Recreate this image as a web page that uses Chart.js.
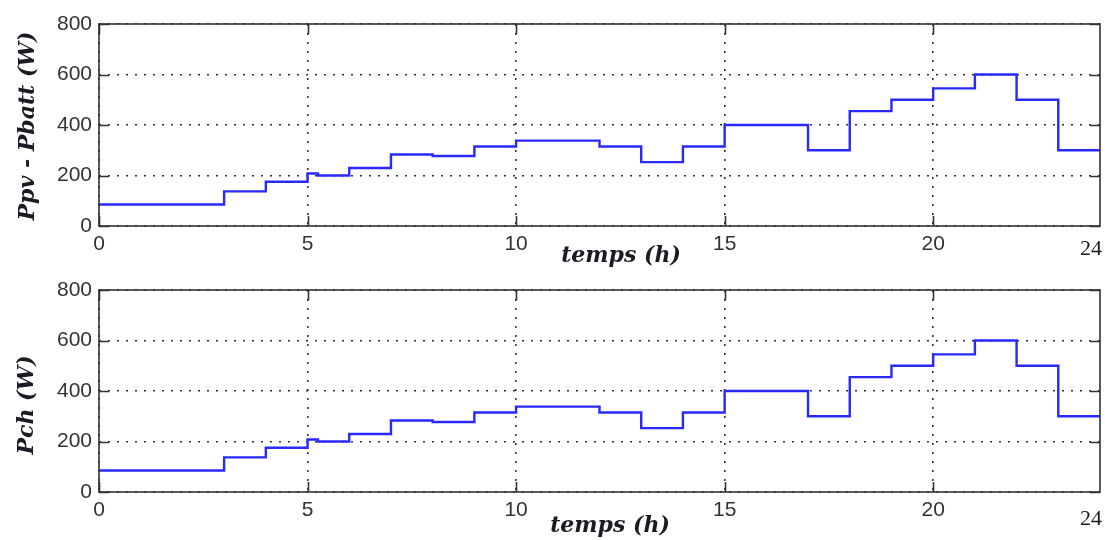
<!DOCTYPE html>
<html>
<head>
<meta charset="utf-8">
<script src="https://cdn.jsdelivr.net/npm/chart.js@4/dist/chart.umd.min.js"></script>
<style>
  html, body { margin: 0; padding: 0; background: #ffffff; }
  #wrap { position: relative; width: 1105px; height: 540px; overflow: hidden; }
  .panel { position: absolute; left: 0; width: 1105px; height: 270px; }
  canvas { display: block; }
</style>
</head>
<body>
<div id="wrap">
  <div class="panel" style="top:0"><canvas id="cNet" width="1105" height="270"></canvas></div>
  <div class="panel" style="top:270px"><canvas id="cLoad" width="1105" height="270"></canvas></div>
</div>
<script>
// Hour at which each power level starts (last entry closes the day)
const hours = [0, 3, 4, 5, 5.25, 6, 7, 8, 9, 10, 12, 13, 14, 15, 17, 18, 19, 20, 21, 22, 23, 24];
// Ppv - Pbatt (W)
const pNet  = [85, 137, 175, 208, 200, 230, 283, 277, 315, 338, 315, 253, 315, 400, 300, 455, 500, 545, 600, 500, 300, 300];
// Pch (W)
const pLoad = [85, 137, 175, 208, 200, 230, 283, 277, 315, 338, 315, 253, 315, 400, 300, 455, 500, 545, 600, 500, 300, 300];

const xTicks = [0, 5, 10, 15, 20];
const yTicks = [0, 200, 400, 600, 800];
const xMax = 24;
const yMax = 800;

const INK = '#333333';

// Box frame, inward tick marks and the hand-placed texts around each panel
const framePlugin = {
  id: 'frameAndLabels',
  afterDatasetsDraw(chart, args, opts) {
    const { ctx, chartArea: a, scales: { x, y } } = chart;
    const tl = 10;
    ctx.save();
    ctx.strokeStyle = INK;
    ctx.lineWidth = 1.6;
    ctx.beginPath();
    x.ticks.forEach(t => {
      const px = Math.round(x.getPixelForValue(t.value)) + 0.5;
      ctx.moveTo(px, a.bottom); ctx.lineTo(px, a.bottom - tl);
      ctx.moveTo(px, a.top);    ctx.lineTo(px, a.top + tl);
    });
    y.ticks.forEach(t => {
      const py = Math.round(y.getPixelForValue(t.value)) + 0.5;
      ctx.moveTo(a.left, py);  ctx.lineTo(a.left + tl, py);
      ctx.moveTo(a.right, py); ctx.lineTo(a.right - tl, py);
    });
    ctx.stroke();
    ctx.strokeRect(a.left, a.top, a.right - a.left, a.bottom - a.top);

    // end-of-day label on the time axis
    ctx.fillStyle = '#1b1b24';
    ctx.font = '22px "Liberation Serif"';
    ctx.textAlign = 'right';
    ctx.textBaseline = 'alphabetic';
    ctx.fillText(String(xMax), x.getPixelForValue(xMax) + 2, opts.endLabelY);

    // axis titles
    ctx.font = 'italic bold 22px "DejaVu Serif"';
    ctx.textAlign = 'center';
    ctx.fillText('temps (h)', opts.xTitleX, opts.xTitleY);
    ctx.translate(opts.yTitleX, opts.yTitleY);
    ctx.rotate(-Math.PI / 2);
    ctx.textBaseline = 'middle';
    ctx.fillText(opts.yTitle, 0, 0);
    ctx.restore();
  }
};

function makePanel(canvasId, values, area, texts) {
  return new Chart(document.getElementById(canvasId), {
    type: 'line',
    data: {
      datasets: [{
        data: hours.map((h, i) => ({ x: h, y: values[i] })),
        stepped: 'before',
        borderColor: '#2828ff',
        borderWidth: 2.4,
        pointRadius: 0,
        fill: false
      }]
    },
    options: {
      responsive: false,
      animation: false,
      devicePixelRatio: 1,
      layout: { padding: { top: area.top, right: 5, left: 0, bottom: 0 } },
      plugins: {
        legend: { display: false },
        tooltip: { enabled: false },
        frameAndLabels: texts
      },
      scales: {
        x: {
          type: 'linear',
          min: 0,
          max: xMax,
          afterBuildTicks: s => { s.ticks = xTicks.map(v => ({ value: v })); },
          afterFit: s => { s.height = 270 - area.bottom; },
          border: { display: false, dash: [2, 7] },
          grid: { color: '#333333', lineWidth: 1.6, drawTicks: false },
          ticks: {
            padding: 6,
            color: '#333333',
            font: { family: '"Liberation Sans", Arial, sans-serif', size: 21 },
            callback: v => String(v)
          }
        },
        y: {
          min: 0,
          max: yMax,
          afterBuildTicks: s => { s.ticks = yTicks.map(v => ({ value: v })); },
          afterFit: s => { s.width = 99; },
          border: { display: false, dash: [2, 7] },
          grid: { color: '#333333', lineWidth: 1.6, drawTicks: false },
          ticks: {
            padding: 7,
            color: '#333333',
            font: { family: '"Liberation Sans", Arial, sans-serif', size: 21 },
            callback: v => String(v)
          }
        }
      }
    },
    plugins: [framePlugin]
  });
}

makePanel('cNet', pNet, { top: 24, bottom: 226 }, {
  yTitle: 'Ppv - Pbatt (W)', yTitleX: 28, yTitleY: 126,
  xTitleX: 621, xTitleY: 262, endLabelY: 255
});
makePanel('cLoad', pLoad, { top: 20, bottom: 222 }, {
  yTitle: 'Pch (W)', yTitleX: 27, yTitleY: 135,
  xTitleX: 610, xTitleY: 262, endLabelY: 255
});
</script>
</body>
</html>
